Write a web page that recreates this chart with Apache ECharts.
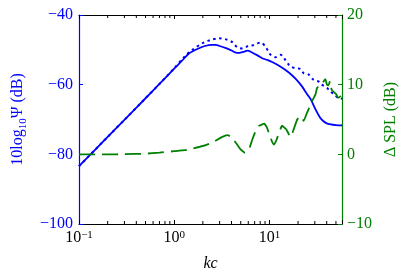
<!DOCTYPE html>
<html><head><meta charset="utf-8">
<script src="https://cdn.jsdelivr.net/npm/echarts@6/dist/echarts.min.js"></script>
<style>html,body{margin:0;padding:0;background:#fff}#c{width:407px;height:277px}</style>
</head><body><div id="c"></div>
<script>
// ---- data ----
const kcSolid  = [0.1, 0.2, 0.3, 0.5, 0.7, 1.0, 1.2, 1.44, 1.8, 2.1, 2.5, 2.73, 3.0, 3.5, 4.0, 4.6, 5.3, 5.9, 6.5, 7.5, 8.4, 9.5, 10.7, 13, 16, 19, 22, 25, 27.3, 30.5, 34, 37, 40, 44, 50, 58];
const psiSolid = [-83.4, -75.0, -70.1, -63.9, -59.8, -55.4, -53.2, -51.0, -49.6, -48.9, -48.6, -48.6, -48.9, -49.5, -50.2, -50.9, -50.6, -50.2, -50.7, -51.6, -52.4, -52.9, -53.5, -54.8, -56.5, -58.4, -60.5, -62.8, -64.3, -67.1, -69.4, -70.5, -71.1, -71.4, -71.6, -71.7];

const kcDotted  = [0.1, 0.2, 0.3, 0.5, 0.7, 1.0, 1.3, 1.55, 1.98, 2.4, 2.96, 3.5, 4.08, 4.6, 5.2, 6.0, 6.88, 8.08, 9.1, 9.9, 10.3, 11.6, 13.1, 13.6, 14.8, 16.0, 16.7, 18.8, 21.2, 22.9, 25.9, 29.1, 33, 35.5, 40.2, 43.4, 48.8, 52.6, 58];
const psiDotted = [-83.4, -75.0, -70.1, -63.9, -59.8, -55.3, -51.8, -50.0, -48.1, -47.2, -46.7, -47.0, -47.8, -49.3, -49.6, -48.9, -48.6, -47.9, -49.1, -50.8, -51.4, -52.1, -51.4, -51.7, -53.0, -54.3, -54.8, -55.3, -55.5, -56.7, -57.1, -58.6, -59.1, -60.0, -60.9, -61.9, -62.9, -63.8, -64.0];

const kcDelta  = [0.1, 0.2, 0.3, 0.5, 0.7, 1.0, 1.3, 1.55, 2.0, 2.52, 3.2, 3.62, 4.0, 4.42, 4.98, 5.54, 6.1, 6.6, 7.2, 7.77, 8.41, 8.8, 9.45, 10.1, 10.6, 11.2, 11.9, 13.6, 15.0, 16.7, 18.0, 19.6, 21.2, 22.9, 24.9, 28, 30.5, 31.6, 33, 35.5, 37.2, 38.7, 40.2, 41.7, 43.3, 45, 47.9, 50.5, 52.5, 56, 58];
const deltaSPL = [0.0, 0.0, 0.02, 0.1, 0.25, 0.45, 0.6, 0.8, 1.2, 1.7, 2.5, 2.75, 2.5, 1.7, 0.7, 0.25, 0.7, 2.1, 3.4, 4.1, 4.3, 4.4, 3.8, 2.7, 1.9, 1.4, 2.1, 4.1, 3.6, 2.5, 3.6, 5.0, 5.5, 4.8, 6.0, 7.6, 8.6, 9.5, 9.8, 9.9, 10.5, 10.8, 10.0, 9.9, 10.5, 9.3, 8.9, 8.6, 8.1, 8.3, 7.9];

const xMajorTicks = [0.1, 1, 10];
const xMinorTicks = [0.2, 0.3, 0.4, 0.5, 0.6, 0.7, 0.8, 0.9, 2, 3, 4, 5, 6, 7, 8, 9, 20, 30, 40, 50];
const leftTicks  = [-100, -80, -60, -40];
const rightTicks = [-10, 0, 10, 20];

// ---- chart ----
const BLUE = '#0000ff', GREEN = '#008000';
const SERIF = "'Liberation Serif','DejaVu Serif',serif";
const pairs = (xs, ys) => xs.map((x, i) => [x, ys[i]]);
const xMin = 0.1, xMax = 58;

function xLabel(v) {
  if (!xMajorTicks.some(t => Math.abs(t - v) < 1e-9 * Math.max(1, t))) return '';
  const e = Math.round(Math.log10(v));
  return '{b|10}{sup|' + (e < 0 ? '\u2212' + (-e) : e) + '}';
}

const chart = echarts.init(document.getElementById('c'), null, {renderer: 'canvas'});
const option = {
  animation: false,
  backgroundColor: '#fff',
  grid: {left: 79, right: 64, top: 15, bottom: 52, containLabel: false},
  xAxis: [{
    type: 'log', logBase: 10, min: xMin, max: xMax, interval: 1, position: 'bottom',
    axisLine: {show: true, onZero: false, lineStyle: {color: '#000', width: 1}},
    axisTick: {show: true, inside: true, length: 4, lineStyle: {color: '#000'}},
    axisLabel: {
      formatter: xLabel, margin: 6, color: '#000', fontFamily: SERIF,
      rich: {
        b: {fontSize: 16, fontFamily: SERIF, color: '#000', lineHeight: 16, padding: [6, 0, 0, 0], verticalAlign: 'bottom'},
        sup: {fontSize: 11, fontFamily: SERIF, color: '#000', lineHeight: 12, verticalAlign: 'top'}
      }
    },
    splitLine: {show: false}, minorTick: {show: false},
    name: 'kc', nameLocation: 'middle', nameGap: 32,
    nameTextStyle: {fontFamily: SERIF, fontStyle: 'italic', fontSize: 16, color: '#000'}
  }, {
    type: 'log', logBase: 10, min: xMin, max: xMax, interval: 1, position: 'top',
    axisLine: {show: true, onZero: false, lineStyle: {color: '#000', width: 1}},
    axisTick: {show: true, inside: true, length: 4, lineStyle: {color: '#000'}},
    axisLabel: {show: false}, splitLine: {show: false}
  }],
  yAxis: [{
    type: 'value', min: leftTicks[0], max: leftTicks[leftTicks.length - 1], interval: 20, position: 'left',
    axisLine: {show: true, onZero: false, lineStyle: {color: BLUE, width: 1.2}},
    axisTick: {show: true, inside: true, length: 4, lineStyle: {color: BLUE}},
    axisLabel: {color: BLUE, fontFamily: SERIF, fontSize: 16, margin: 6,
      formatter: v => (v < 0 ? '\u2212' + (-v) : '' + v)},
    splitLine: {show: false},
    name: '{a|10log}{s|10}{a|\u03A8 (dB)}', nameLocation: 'middle', nameGap: 47, nameRotate: 90,
    nameTextStyle: {color: BLUE, rich: {
      a: {fontFamily: SERIF, fontSize: 16, color: BLUE, lineHeight: 16, verticalAlign: 'top'},
      s: {fontFamily: SERIF, fontSize: 11, color: BLUE, lineHeight: 11, padding: [8, 0, 0, 0], verticalAlign: 'top'}
    }}
  }, {
    type: 'value', min: rightTicks[0], max: rightTicks[rightTicks.length - 1], interval: 10, position: 'right',
    axisLine: {show: true, onZero: false, lineStyle: {color: GREEN, width: 1.2}},
    axisTick: {show: true, inside: true, length: 4, lineStyle: {color: GREEN}},
    axisLabel: {color: GREEN, fontFamily: SERIF, fontSize: 16, margin: 5,
      formatter: v => (v < 0 ? '\u2212' + (-v) : '' + v)},
    splitLine: {show: false},
    name: '\u0394 SPL (dB)', nameLocation: 'middle', nameGap: 36, nameRotate: 90,
    nameTextStyle: {color: GREEN, fontFamily: SERIF, fontSize: 16}
  }],
  series: [{
    type: 'custom', xAxisIndex: 0, yAxisIndex: 0, silent: true, clip: false, z: 1,
    data: xMinorTicks.map(v => [v]),
    renderItem: function (params, api) {
      const b = api.coord([api.value(0), leftTicks[0]]);
      const t = api.coord([api.value(0), leftTicks[leftTicks.length - 1]]);
      const st = {stroke: '#000', lineWidth: 1};
      return {type: 'group', children: [
        {type: 'line', shape: {x1: b[0], y1: b[1], x2: b[0], y2: b[1] - 3}, style: st},
        {type: 'line', shape: {x1: t[0], y1: t[1], x2: t[0], y2: t[1] + 3}, style: st}
      ]};
    }
  }, {
    name: 'solid', type: 'line', xAxisIndex: 0, yAxisIndex: 0, data: pairs(kcSolid, psiSolid),
    showSymbol: false, smooth: 0.3, lineStyle: {color: BLUE, width: 1.8}, z: 3
  }, {
    name: 'dotted', type: 'line', xAxisIndex: 0, yAxisIndex: 0, data: pairs(kcDotted, psiDotted),
    showSymbol: false, smooth: 0.3, lineStyle: {color: BLUE, width: 2, type: [2.5, 3.5]}, z: 3
  }, {
    name: 'delta', type: 'line', xAxisIndex: 0, yAxisIndex: 1, data: pairs(kcDelta, deltaSPL),
    showSymbol: false, smooth: 0.12, lineStyle: {color: GREEN, width: 1.8, type: [16, 7]}, z: 4
  }]
};
chart.setOption(option);
</script></body></html>
